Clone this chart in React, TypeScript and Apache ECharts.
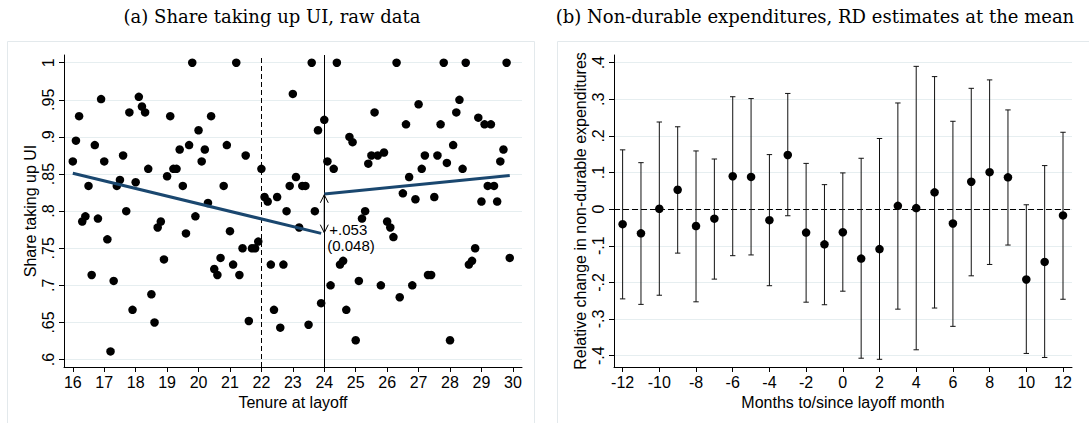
import React, { useEffect, useRef } from "react";
import * as echarts from "echarts";

// ---------- Panel (a): raw data ----------
const tenureAtLayoff = [
  16.0, 16.1, 16.2, 16.3, 16.4, 16.5, 16.6, 16.7, 16.8, 16.9,
  17.0, 17.1, 17.2, 17.3, 17.4, 17.5, 17.6, 17.7, 17.8, 17.9,
  18.0, 18.1, 18.2, 18.3, 18.4, 18.5, 18.6, 18.7, 18.8, 18.9,
  19.0, 19.1, 19.2, 19.3, 19.4, 19.5, 19.6, 19.7, 19.8, 19.9,
  20.0, 20.1, 20.2, 20.3, 20.4, 20.5, 20.6, 20.7, 20.8, 20.9,
  21.0, 21.1, 21.2, 21.3, 21.4, 21.5, 21.6, 21.7, 21.8, 21.9,
  22.0, 22.1, 22.2, 22.3, 22.4, 22.5, 22.6, 22.7, 22.8, 22.9,
  23.0, 23.1, 23.2, 23.3, 23.4, 23.5, 23.6, 23.7, 23.8, 23.9,
  24.0, 24.1, 24.2, 24.3, 24.4, 24.5, 24.6, 24.7, 24.8, 24.9,
  25.0, 25.1, 25.2, 25.3, 25.4, 25.5, 25.6, 25.7, 25.8, 25.9,
  26.0, 26.1, 26.2, 26.3, 26.4, 26.5, 26.6, 26.7, 26.8, 26.9,
  27.0, 27.1, 27.2, 27.3, 27.4, 27.5, 27.6, 27.7, 27.8, 27.9,
  28.0, 28.1, 28.2, 28.3, 28.4, 28.5, 28.6, 28.7, 28.8, 28.9,
  29.0, 29.1, 29.2, 29.3, 29.4, 29.5, 29.6, 29.7, 29.8, 29.9,
];
const shareTakingUpUI = [
  0.867, 0.895, 0.928, 0.786, 0.793, 0.834, 0.714, 0.889, 0.790, 0.951,
  0.867, 0.762, 0.611, 0.706, 0.834, 0.842, 0.875, 0.800, 0.933, 0.667,
  0.839, 0.954, 0.941, 0.933, 0.857, 0.688, 0.650, 0.778, 0.786, 0.735,
  0.847, 0.928, 0.857, 0.857, 0.883, 0.834, 0.770, 0.889, 1.000, 0.793,
  0.909, 0.867, 0.883, 0.811, 0.928, 0.722, 0.714, 0.737, 0.834, 0.889,
  0.773, 0.728, 1.000, 0.714, 0.750, 0.875, 0.652, 0.750, 0.750, 0.759,
  0.857, 0.819, 0.813, 0.728, 0.667, 0.819, 0.643, 0.728, 0.800, 0.834,
  0.958, 0.846, 0.778, 0.834, 0.834, 0.647, 1.000, 0.800, 0.909, 0.676,
  0.923, 0.867, 0.700, 0.857, 1.000, 0.728, 0.733, 0.667, 0.900, 0.893,
  0.626, 0.706, 0.790, 0.800, 0.864, 0.875, 0.933, 0.875, 0.700, 0.879,
  0.786, 0.778, 0.765, 1.000, 0.684, 0.824, 0.917, 0.846, 0.700, 0.816,
  0.944, 0.857, 0.875, 0.714, 0.714, 0.819, 0.875, 0.917, 1.000, 0.865,
  0.626, 0.889, 0.933, 0.950, 0.857, 1.000, 0.728, 0.733, 0.750, 0.926,
  0.813, 0.917, 0.834, 0.917, 0.834, 0.813, 0.867, 0.883, 1.000, 0.737,
];
const fitLeftX = [16.0, 23.9];
const fitLeftY = [0.851, 0.770];
const fitRightX = [24.0, 29.9];
const fitRightY = [0.823, 0.848];
const cutoffDashed = 22;
const cutoffSolid = 24;
const jumpFrom = 0.771;
const jumpTo = 0.822;
const jumpLabel = "+.053";
const jumpSE = "(0.048)";
const xTicksA = [16, 17, 18, 19, 20, 21, 22, 23, 24, 25, 26, 27, 28, 29, 30];
const yTicksA = [0.6, 0.65, 0.7, 0.75, 0.8, 0.85, 0.9, 0.95, 1];
const yTickLabelsA = [".6", ".65", ".7", ".75", ".8", ".85", ".9", ".95", "1"];

// ---------- Panel (b): RD estimates ----------
const months = [-12, -11, -10, -9, -8, -7, -6, -5, -4, -3, -2, -1, 0, 1, 2, 3, 4, 5, 6, 7, 8, 9, 10, 11, 12];
const estimates = [
  -0.041, -0.066, 0.001, 0.053, -0.046, -0.026, 0.090, 0.088, -0.030, 0.148, -0.064, -0.096, -0.063,
  -0.135, -0.109, 0.009, 0.003, 0.046, -0.039, 0.075, 0.101, 0.087, -0.192, -0.144, -0.017,
];
const ciUpper = [
  0.162, 0.127, 0.238, 0.225, 0.159, 0.137, 0.307, 0.302, 0.149, 0.316, 0.125, 0.067, 0.099,
  0.139, 0.193, 0.290, 0.390, 0.362, 0.240, 0.330, 0.353, 0.271, 0.012, 0.119, 0.210,
];
const ciLower = [
  -0.245, -0.260, -0.235, -0.120, -0.253, -0.191, -0.127, -0.125, -0.209, -0.018, -0.254, -0.261, -0.224,
  -0.407, -0.410, -0.273, -0.384, -0.270, -0.320, -0.182, -0.151, -0.098, -0.394, -0.405, -0.246,
];
const xTicksB = [-12, -10, -8, -6, -4, -2, 0, 2, 4, 6, 8, 10, 12];
const yTicksB = [-0.4, -0.3, -0.2, -0.1, 0, 0.1, 0.2, 0.3, 0.4];
const yTickLabelsB = ["-.4", "-.3", "-.2", "-.1", "0", ".1", ".2", ".3", ".4"];

const titleA = "(a) Share taking up UI, raw data";
const titleB = "(b) Non-durable expenditures, RD estimates at the mean";

const SANS = "'Liberation Sans', Arial, Helvetica, sans-serif";
const SERIF = "'DejaVu Serif', 'Liberation Serif', serif";
const GRID_COLOR = "#e6eef0";
const NAVY = "#1a476f";

function labelLookup(ticks: number[], labels: string[]) {
  return (v: number) => {
    for (let i = 0; i < ticks.length; i++) if (Math.abs(ticks[i] - v) < 1e-6) return labels[i];
    return "";
  };
}

function baseXAxis(gridIndex: number, min: number, max: number, ticks: number[], name: string) {
  return {
    type: "value",
    gridIndex,
    min,
    max,
    name,
    nameLocation: "middle",
    nameGap: 25,
    nameTextStyle: { fontFamily: SANS, fontSize: 16, color: "#000" },
    axisLine: { show: true, onZero: false, lineStyle: { color: "#000", width: 1 } },
    axisTick: { show: true, length: 5, customValues: ticks, lineStyle: { color: "#000", width: 1 } },
    axisLabel: { show: true, customValues: ticks, margin: 7, fontFamily: SANS, fontSize: 16, color: "#000" },
    splitLine: { show: false },
  };
}

function baseYAxis(gridIndex: number, min: number, max: number, ticks: number[], labels: string[], name: string) {
  return {
    type: "value",
    gridIndex,
    min,
    max,
    name,
    nameLocation: "middle",
    nameGap: 26,
    nameTextStyle: { fontFamily: SANS, fontSize: 16, color: "#000" },
    axisLine: { show: true, onZero: false, lineStyle: { color: "#000", width: 1 } },
    axisTick: { show: true, length: 5, customValues: ticks, lineStyle: { color: "#000", width: 1 } },
    axisLabel: {
      show: true,
      customValues: ticks,
      rotate: 90,
      margin: 8,
      fontFamily: SANS,
      fontSize: 16,
      color: "#000",
      formatter: labelLookup(ticks, labels),
    },
    splitLine: { show: false },
  };
}

export default function App() {
  const ref = useRef<HTMLDivElement>(null);

  useEffect(() => {
    if (!ref.current) return;
    const chart = echarts.init(ref.current, undefined, { renderer: "svg" });

    const scatterData = tenureAtLayoff.map((x, i) => [x, shareTakingUpUI[i]]);
    const ciData = months.map((m, i) => [m, ciLower[i], ciUpper[i]]);
    const estData = months.map((m, i) => [m, estimates[i]]);

    const gridLinesA = yTicksA.map((v) => ({ yAxis: v }));
    const gridLinesB = yTicksB.map((v) => ({ yAxis: v }));

    const titleStyle = {
      textAlign: "center",
      textVerticalAlign: "middle",
      align: "center",
      verticalAlign: "middle",
      fontFamily: SERIF,
      fontSize: 18,
      fill: "#000",
    };

    const option: any = {
      animation: false,
      backgroundColor: "#ffffff",
      graphic: [
        {
          type: "rect",
          z: -10,
          shape: { x: 7.5, y: 41.5, width: 527, height: 420 },
          style: { fill: "#ffffff", stroke: "#e3e9ec", lineWidth: 1 },
        },
        {
          type: "rect",
          z: -10,
          shape: { x: 557.5, y: 41.5, width: 560, height: 420 },
          style: { fill: "#ffffff", stroke: "#e3e9ec", lineWidth: 1 },
        },
        { type: "text", x: 272, y: 16, style: { ...titleStyle, text: titleA } },
        { type: "text", x: 815, y: 16, style: { ...titleStyle, text: titleB } },
      ],
      grid: [
        { left: 64, top: 55, width: 458, height: 312 },
        { left: 614, top: 55, width: 458, height: 312 },
      ],
      xAxis: [
        baseXAxis(0, 15.72, 30.29, xTicksA, "Tenure at layoff"),
        baseXAxis(1, -12.47, 12.49, xTicksB, "Months to/since layoff month"),
      ],
      yAxis: [
        baseYAxis(0, 0.59, 1.0104, yTicksA, yTickLabelsA, "Share taking up UI"),
        baseYAxis(1, -0.431, 0.421, yTicksB, yTickLabelsB, "Relative change in non-durable expenditures"),
      ],
      series: [
        // gridlines panel a
        {
          type: "line",
          xAxisIndex: 0,
          yAxisIndex: 0,
          data: [],
          z: 0,
          silent: true,
          markLine: {
            z: 0,
            silent: true,
            symbol: ["none", "none"],
            label: { show: false },
            lineStyle: { color: GRID_COLOR, width: 1, type: "solid" },
            data: gridLinesA,
          },
        },
        // cutoff lines panel a
        {
          type: "line",
          xAxisIndex: 0,
          yAxisIndex: 0,
          data: [],
          z: 1,
          silent: true,
          markLine: {
            z: 1,
            silent: true,
            symbol: ["none", "none"],
            label: { show: false },
            data: [
              { xAxis: cutoffDashed, lineStyle: { color: "#000", width: 1, type: [5, 3] } },
              { xAxis: cutoffSolid, lineStyle: { color: "#000", width: 1, type: "solid" } },
            ],
          },
        },
        {
          type: "scatter",
          xAxisIndex: 0,
          yAxisIndex: 0,
          data: scatterData,
          symbol: "circle",
          symbolSize: 8.5,
          itemStyle: { color: "#000", opacity: 1 },
          z: 10,
        },
        {
          type: "line",
          xAxisIndex: 0,
          yAxisIndex: 0,
          data: fitLeftX.map((x, i) => [x, fitLeftY[i]]),
          showSymbol: false,
          symbol: "none",
          lineStyle: { color: NAVY, width: 3 },
          z: 11,
        },
        {
          type: "line",
          xAxisIndex: 0,
          yAxisIndex: 0,
          data: fitRightX.map((x, i) => [x, fitRightY[i]]),
          showSymbol: false,
          symbol: "none",
          lineStyle: { color: NAVY, width: 3 },
          z: 11,
        },
        // jump arrow + annotation
        {
          type: "custom",
          xAxisIndex: 0,
          yAxisIndex: 0,
          data: [[cutoffSolid, jumpFrom, jumpTo]],
          z: 12,
          silent: true,
          renderItem: (params: any, api: any) => {
            const x = api.value(0);
            const lo = api.coord([x, api.value(1)]);
            const hi = api.coord([x, api.value(2)]);
            const hw = 4;
            const hh = 8;
            const st = { stroke: "#000", lineWidth: 1, fill: "none" };
            return {
              type: "group",
              children: [
                { type: "line", shape: { x1: lo[0], y1: lo[1], x2: hi[0], y2: hi[1] }, style: st },
                {
                  type: "polyline",
                  shape: { points: [[hi[0] - hw, hi[1] + hh], [hi[0], hi[1]], [hi[0] + hw, hi[1] + hh]] },
                  style: st,
                },
                {
                  type: "polyline",
                  shape: { points: [[lo[0] - hw, lo[1] - hh], [lo[0], lo[1]], [lo[0] + hw, lo[1] - hh]] },
                  style: st,
                },
                {
                  type: "text",
                  x: lo[0] + 5,
                  y: lo[1] - 3,
                  style: {
                    text: jumpLabel,
                    fontFamily: SANS,
                    fontSize: 15,
                    fill: "#000",
                    align: "left",
                    verticalAlign: "middle",
                  },
                },
                {
                  type: "text",
                  x: lo[0] + 3,
                  y: lo[1] + 13,
                  style: {
                    text: jumpSE,
                    fontFamily: SANS,
                    fontSize: 15,
                    fill: "#000",
                    align: "left",
                    verticalAlign: "middle",
                  },
                },
              ],
            };
          },
        },
        // gridlines + zero line panel b
        {
          type: "line",
          xAxisIndex: 1,
          yAxisIndex: 1,
          data: [],
          z: 0,
          silent: true,
          markLine: {
            z: 0,
            silent: true,
            symbol: ["none", "none"],
            label: { show: false },
            lineStyle: { color: GRID_COLOR, width: 1, type: "solid" },
            data: gridLinesB,
          },
        },
        {
          type: "line",
          xAxisIndex: 1,
          yAxisIndex: 1,
          data: [],
          z: 1,
          silent: true,
          markLine: {
            z: 1,
            silent: true,
            symbol: ["none", "none"],
            label: { show: false },
            data: [{ yAxis: 0, lineStyle: { color: "#000", width: 1, type: [6, 3] } }],
          },
        },
        {
          type: "custom",
          xAxisIndex: 1,
          yAxisIndex: 1,
          data: ciData,
          encode: { x: 0, y: [1, 2] },
          z: 5,
          renderItem: (params: any, api: any) => {
            const x = api.value(0);
            const lo = api.coord([x, api.value(1)]);
            const hi = api.coord([x, api.value(2)]);
            const hw = 2.7;
            const st = { stroke: "#111", lineWidth: 1 };
            return {
              type: "group",
              children: [
                { type: "line", shape: { x1: lo[0], y1: lo[1], x2: hi[0], y2: hi[1] }, style: st },
                { type: "line", shape: { x1: hi[0] - hw, y1: hi[1], x2: hi[0] + hw, y2: hi[1] }, style: st },
                { type: "line", shape: { x1: lo[0] - hw, y1: lo[1], x2: lo[0] + hw, y2: lo[1] }, style: st },
              ],
            };
          },
        },
        {
          type: "scatter",
          xAxisIndex: 1,
          yAxisIndex: 1,
          data: estData,
          symbol: "circle",
          symbolSize: 8.5,
          itemStyle: { color: "#000", opacity: 1 },
          z: 10,
        },
      ],
    };

    chart.setOption(option);
    return () => chart.dispose();
  }, []);

  return (
    <div
      ref={ref}
      style={{ position: "fixed", left: 0, top: 0, width: 1089, height: 423, background: "#fff" }}
    />
  );
}
